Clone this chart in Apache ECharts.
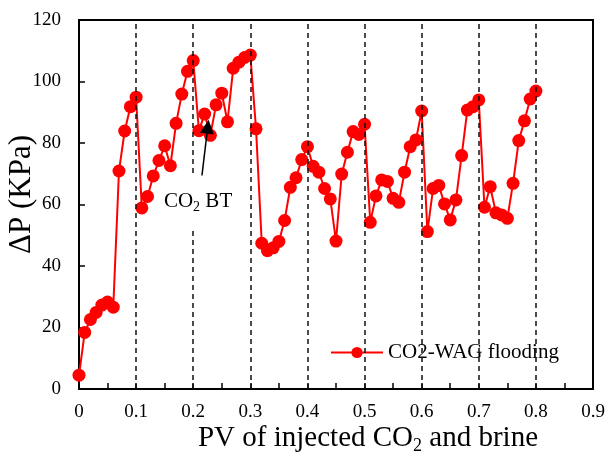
<!DOCTYPE html>
<html>
<head>
<meta charset="utf-8">
<script src="https://cdn.jsdelivr.net/npm/echarts@6/dist/echarts.min.js"></script>
<style>
  html, body { margin: 0; padding: 0; background: #fff; }
  #chart { width: 606px; height: 469px; }
</style>
</head>
<body>
<div id="chart"></div>
<script>
// Pore volumes of injected CO2 and brine
const pv = [
  0.00, 0.01, 0.02, 0.03, 0.04, 0.05, 0.06, 0.07, 0.08, 0.09,
  0.10, 0.11, 0.12, 0.13, 0.14, 0.15, 0.16, 0.17, 0.18, 0.19,
  0.20, 0.21, 0.22, 0.23, 0.24, 0.25, 0.26, 0.27, 0.28, 0.29,
  0.30, 0.31, 0.32, 0.33, 0.34, 0.35, 0.36, 0.37, 0.38, 0.39,
  0.40, 0.41, 0.42, 0.43, 0.44, 0.45, 0.46, 0.47, 0.48, 0.49,
  0.50, 0.51, 0.52, 0.53, 0.54, 0.55, 0.56, 0.57, 0.58, 0.59,
  0.60, 0.61, 0.62, 0.63, 0.64, 0.65, 0.66, 0.67, 0.68, 0.69,
  0.70, 0.71, 0.72, 0.73, 0.74, 0.75, 0.76, 0.77, 0.78, 0.79,
  0.80
];

// Differential pressure, KPa
const deltaP = [
  4.5, 18.4, 22.6, 24.9, 27.3, 28.3, 26.6, 70.9, 83.9, 91.8,
  94.9, 58.9, 62.6, 69.3, 74.3, 79.1, 72.6, 86.4, 95.9, 103.3,
  106.8, 84.0, 89.4, 82.5, 92.4, 96.2, 86.9, 104.3, 106.3, 107.8,
  108.6, 84.6, 47.4, 45.0, 45.9, 48.0, 54.8, 65.6, 68.7, 74.6,
  78.8, 72.4, 70.5, 65.2, 61.8, 48.1, 69.9, 77.0, 83.7, 82.8,
  86.1, 54.2, 62.8, 68.0, 67.5, 62.0, 60.7, 70.5, 78.8, 81.0,
  90.4, 51.2, 65.2, 66.2, 60.2, 55.0, 61.5, 75.9, 90.7, 91.8,
  94.0, 59.1, 65.8, 57.3, 56.6, 55.5, 66.9, 80.8, 87.2, 94.3,
  96.9
];

// Slug boundaries (alternating CO2 / brine injection)
const slugBoundaries = [0.1, 0.2, 0.3, 0.4, 0.5, 0.6, 0.7, 0.8];

// CO2 breakthrough annotation: label anchor and arrow from tail to head centre
const btLabel = [0.2085, 61];
const btArrow = [[0.215, 69], [0.2255, 85.3]];

const seriesName = 'CO2-WAG flooding';
const serif = 'Liberation Serif';

const chart = echarts.init(document.getElementById('chart'));

chart.setOption({
  animation: false,
  backgroundColor: '#fff',
  grid: {
    left: 79, right: 13, top: 20, bottom: 80,
    containLabel: false,
    outerBoundsMode: 'none',
    show: true, borderColor: '#000', borderWidth: 2,
    backgroundColor: 'transparent'
  },
  legend: {
    data: [seriesName],
    left: 320, top: 330,
    padding: [12, 12, 12, 10],
    backgroundColor: '#fff',
    itemWidth: 52, itemHeight: 14,
    textStyle: { fontFamily: serif, fontSize: 21, color: '#000' }
  },
  xAxis: {
    type: 'value',
    min: 0, max: 0.9, interval: 0.1,
    name: '{n|PV of injected CO}{s|2}{n| and brine}',
    nameLocation: 'middle',
    nameGap: 32,
    nameMoveOverlap: false,
    nameTextStyle: {
      padding: [0, 0, 0, 64],
      rich: {
        n: { fontFamily: serif, fontSize: 29, color: '#000', lineHeight: 34 },
        s: { fontFamily: serif, fontSize: 18, color: '#000', lineHeight: 18, verticalAlign: 'bottom' }
      }
    },
    axisLine: { lineStyle: { color: '#000', width: 2 } },
    axisTick: { inside: true, length: 6, lineStyle: { color: '#000', width: 1.5 } },
    minorTick: { show: true, splitNumber: 2, length: 6, lineStyle: { color: '#000', width: 1.5 } },
    splitLine: { show: false },
    axisLabel: {
      fontFamily: serif, fontSize: 19, color: '#000', margin: 14,
      formatter: v => String(Math.round(v * 10) / 10)
    }
  },
  yAxis: {
    type: 'value',
    min: 0, max: 120, interval: 20,
    name: 'ΔP (KPa)',
    nameLocation: 'middle',
    nameGap: 42,
    nameMoveOverlap: false,
    nameTextStyle: { fontFamily: serif, fontSize: 31, color: '#000', padding: [0, 0, 0, 20] },
    axisLine: { show: true, lineStyle: { color: '#000', width: 2 } },
    axisTick: { show: true, inside: true, length: 6, lineStyle: { color: '#000', width: 1.5 } },
    splitLine: { show: false },
    axisLabel: { fontFamily: serif, fontSize: 19, color: '#000', margin: 18 }
  },
  series: [
    {
      // vertical dashed slug boundaries
      type: 'line',
      data: [],
      z: 1,
      silent: true,
      markLine: {
        silent: true,
        symbol: 'none',
        label: { show: false },
        lineStyle: { color: '#111', width: 1.5, type: [5, 4] },
        data: slugBoundaries.map(x => ({ xAxis: x }))
      }
    },
    {
      name: seriesName,
      type: 'line',
      z: 3,
      data: pv.map((x, i) => [x, deltaP[i]]),
      symbol: 'circle',
      symbolSize: 13,
      itemStyle: { color: '#ff0000' },
      lineStyle: { color: '#ff0000', width: 2 }
    },
    {
      // breakthrough annotation
      type: 'line',
      data: [],
      z: 4,
      silent: true,
      markPoint: {
        silent: true,
        symbol: 'rect',
        symbolSize: 1,
        itemStyle: { color: 'transparent' },
        label: {
          show: true,
          position: 'inside',
          backgroundColor: '#fff',
          padding: [13, 4, 13, 4],
          formatter: '{n|CO}{s|2}{n| BT}',
          rich: {
            n: { fontFamily: serif, fontSize: 21, color: '#000', lineHeight: 26 },
            s: { fontFamily: serif, fontSize: 14, color: '#000', lineHeight: 14, verticalAlign: 'bottom' }
          }
        },
        data: [{ coord: btLabel }]
      },
      markLine: {
        silent: true,
        symbol: ['none', 'triangle'],
        symbolSize: 14,
        label: { show: false },
        lineStyle: { color: '#000', width: 1.5, type: 'solid' },
        data: [[{ coord: btArrow[0] }, { coord: btArrow[1] }]]
      }
    }
  ]
});
</script>
</body>
</html>
